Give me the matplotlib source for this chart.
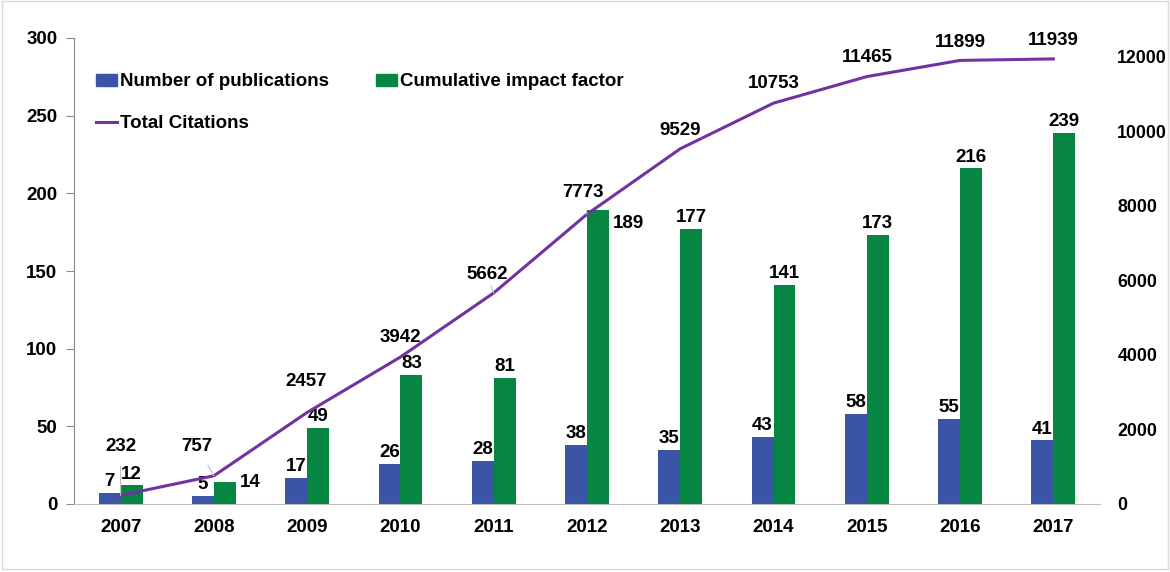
import matplotlib
matplotlib.use("Agg")
import matplotlib.pyplot as plt
import numpy as np
from matplotlib.lines import Line2D
from matplotlib.patches import Patch, Rectangle

plt.rcParams["font.family"] = ["Liberation Sans", "DejaVu Sans"]
plt.rcParams["font.weight"] = "bold"

years = ["2007", "2008", "2009", "2010", "2011", "2012", "2013", "2014", "2015", "2016", "2017"]
publications = [7, 5, 17, 26, 28, 38, 35, 43, 58, 55, 41]
impact = [12, 14, 49, 83, 81, 189, 177, 141, 173, 216, 239]
citations = [232, 757, 2457, 3942, 5662, 7773, 9529, 10753, 11465, 11899, 11939]

BLUE = "#3A54A6"
GREEN = "#078543"
PURPLE = "#7232A0"
FS = 13.5

fig = plt.figure(figsize=(11.7, 5.72), dpi=100)
ax = fig.add_axes([74 / 1170, 1 - 504 / 572, (1100 - 74) / 1170, (504 - 38) / 572])
ax2 = ax.twinx()

x = np.arange(len(years))
w = 0.235
ax.bar(x - w / 2, publications, w, color=BLUE, zorder=2)
ax.bar(x + w / 2, impact, w, color=GREEN, zorder=2)

ax.set_xlim(-0.5, 10.5)
ax.set_ylim(0, 300)
ax.set_yticks(range(0, 301, 50))
ax.set_xticks(x)
ax.set_xticklabels(years)
ax2.set_ylim(0, 12500)
ax2.set_yticks(range(0, 12001, 2000))

for s in ["top", "right"]:
    ax.spines[s].set_visible(False)
for s in ["top", "right", "left", "bottom"]:
    ax2.spines[s].set_visible(False)
ax.spines["left"].set_color("#8C8C8C")
ax.spines["bottom"].set_color("#BFBFBF")
ax.tick_params(axis="y", length=6, color="#8C8C8C", labelsize=FS, pad=6)
ax.tick_params(axis="x", length=0, labelsize=FS, pad=11)
ax2.tick_params(axis="y", length=0, labelsize=12.8, pad=12.5)

# line on top of bars
ax.set_zorder(1)
ax.patch.set_visible(False)
ax2.set_zorder(2)
ax2.plot(x, citations, color=PURPLE, lw=2.2, zorder=3)

# bar labels
for i, v in enumerate(publications):
    ax.annotate(str(v), (x[i] - w / 2, v), xytext=(0, 2), textcoords="offset points",
                ha="center", va="bottom", fontsize=FS, fontweight="bold")
for i, v in enumerate(impact):
    if years[i] == "2008":
        ax.annotate(str(v), (x[i] + w, v), xytext=(3, 0), textcoords="offset points",
                    ha="left", va="center", fontsize=FS, fontweight="bold")
    elif years[i] == "2012":
        ax.annotate(str(v), (x[i] + w, v), xytext=(3, -3), textcoords="offset points",
                    ha="left", va="top", fontsize=FS, fontweight="bold")
    else:
        ax.annotate(str(v), (x[i] + w / 2, v), xytext=(0, 2), textcoords="offset points",
                    ha="center", va="bottom", fontsize=FS, fontweight="bold")

# citation labels (offsets in points, label centre relative to point)
offs = {0: (0, 35), 1: (-12, 21), 2: (-1, 22), 3: (0, 14), 4: (-5, 13), 5: (-3, 16),
        6: (0, 13), 7: (0, 14), 8: (0, 14), 9: (0, 13), 10: (0, 13)}
leader = {0, 1, 4, 5}
for i, v in enumerate(citations):
    dx, dy = offs[i]
    kw = {}
    if i in leader:
        kw["arrowprops"] = dict(arrowstyle="-", color="#BFBFBF", lw=0.8, shrinkA=6, shrinkB=0)
    ax2.annotate(str(v), (x[i], v), xytext=(dx, dy), textcoords="offset points",
                 ha="center", va="center", fontsize=FS, fontweight="bold", **kw)

handles = [Patch(color=BLUE, label="Number of publications"),
           Line2D([0], [0], color=PURPLE, lw=2.2, label="Total Citations"),
           Patch(color=GREEN, label="Cumulative impact factor")]
fig.legend(handles=handles, ncol=2, frameon=False, fontsize=FS,
           loc="upper left", bbox_to_anchor=(88 / 1170, 1 - 66 / 572),
           handlelength=1.15, handleheight=0.55, handletextpad=0.15,
           labelspacing=1.3, columnspacing=2.5, borderaxespad=0)

fig.patches.append(Rectangle((0.002, 0.005), 0.996, 0.993, transform=fig.transFigure,
                             fill=False, edgecolor="#D9D9D9", lw=1))

fig.savefig("out.png", dpi=100)
